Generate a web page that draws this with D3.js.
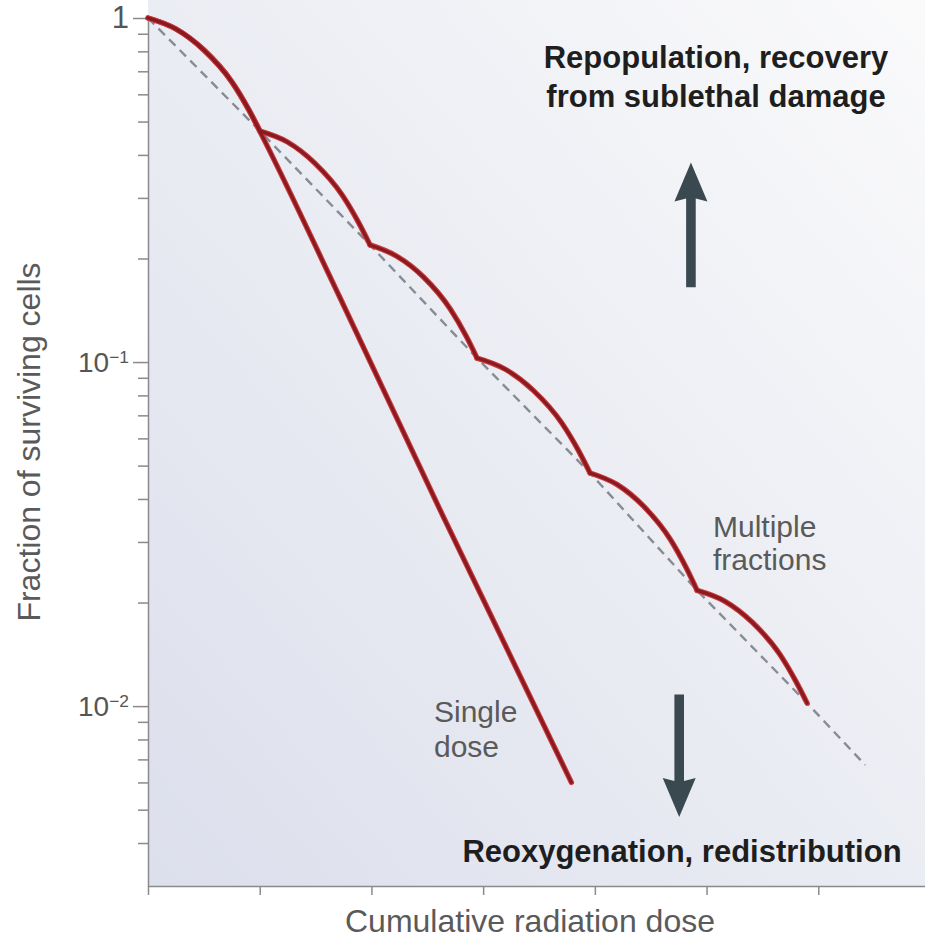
<!DOCTYPE html>
<html lang="en">
<head>
  <meta charset="UTF-8">
  <title>Cell survival: single dose vs multiple fractions</title>
  <script src="https://d3js.org/d3.v7.min.js"></script>
  <style>
    body { margin: 0; background: #fff; }
    svg { display: block; font-family: "Liberation Sans", Arial, Helvetica, sans-serif; }
    .axis path, .axis line { stroke: #8a8a8a; stroke-width: 1.5px; }
    .axis text { fill: #555; font-size: 28px; }
    .label { fill: #5a5a5a; font-size: 30px; }
    .title { fill: #5a5a5a; font-size: 32px; }
    .note { fill: #1e1e1e; font-size: 31px; font-weight: bold; }
    .curve-halo { fill: none; stroke: #c93a3d; stroke-width: 5.4px; stroke-linejoin: round; stroke-linecap: round; }
    .curve { fill: none; stroke: #8a1a1f; stroke-width: 3.2px; stroke-linejoin: round; stroke-linecap: round; }
    .envelope { fill: none; stroke: #878c94; stroke-width: 2.4px; stroke-dasharray: 9,6; }
    .arrow { fill: #3a4850; }
  </style>
</head>
<body>
  <script>
    const width = 925;
    const height = 940;

    // dose (tick units) and surviving fraction
    const singleDose = [
      [0, 1], [0.25, 0.929], [0.5, 0.807], [0.75, 0.652], [0.9, 0.542], [1.0, 0.469],
      [1.72, 0.1535], [2.64, 0.0357], [3.79, 0.0060]
    ];

    // each fraction is its own shoulder; kinks where the next fraction starts
    const fractions = [
      [[0, 1], [0.251, 0.929], [0.501, 0.807], [0.752, 0.652], [0.902, 0.542], [1.003, 0.469]],
      [[1.003, 0.469], [1.249, 0.436], [1.495, 0.378], [1.741, 0.305], [1.889, 0.253], [1.987, 0.219]],
      [[1.987, 0.219], [2.227, 0.203], [2.466, 0.1767], [2.706, 0.1426], [2.850, 0.1186], [2.945, 0.1027]],
      [[2.945, 0.1027], [3.198, 0.0953], [3.451, 0.0826], [3.704, 0.0665], [3.856, 0.0551], [3.957, 0.0476]],
      [[3.957, 0.0476], [4.197, 0.0441], [4.436, 0.0381], [4.676, 0.0305], [4.819, 0.0252], [4.915, 0.0217]],
      [[4.915, 0.0217], [5.161, 0.0202], [5.407, 0.01755], [5.654, 0.01417], [5.801, 0.01178], [5.900, 0.0102]]
    ];

    // dashed envelope through the kinks
    const envelope = [
      [0, 1], [1.003, 0.469], [1.987, 0.219], [2.945, 0.1027], [3.957, 0.0476],
      [4.915, 0.0217], [5.900, 0.0102], [6.42, 0.00674]
    ];

    const xTicks = [0, 1, 2, 3, 4, 5, 6];
    const yMajor = [1, 0.1, 0.01];
    const yMinor = [0.9, 0.8, 0.7, 0.6, 0.5, 0.4, 0.3, 0.2,
                    0.09, 0.08, 0.07, 0.06, 0.05, 0.04, 0.03, 0.02,
                    0.009, 0.008, 0.007, 0.006, 0.005, 0.004];

    // up: repopulation / recovery, down: reoxygenation / redistribution
    const arrows = [
      { dose: 4.86, from: 0.165, to: 0.38 },
      { dose: 4.755, from: 0.0108, to: 0.00476 }
    ];

    const svg = d3.select("body").append("svg")
      .attr("width", width)
      .attr("height", height);

    const x = d3.scaleLinear().domain([0, 7]).range([148, 930]);
    const y = d3.scaleLog().domain([0.003, 1]).range([886, 18]);

    // shaded plot area
    const defs = svg.append("defs");
    const grad = defs.append("linearGradient")
      .attr("id", "bg")
      .attr("x1", 0).attr("y1", 1).attr("x2", 1).attr("y2", 0);
    grad.append("stop").attr("offset", 0).attr("stop-color", "#dcdfec");
    grad.append("stop").attr("offset", 0.55).attr("stop-color", "#eceef4");
    grad.append("stop").attr("offset", 1).attr("stop-color", "#fafafb");

    svg.append("rect")
      .attr("x", x(0)).attr("y", 0)
      .attr("width", width - x(0)).attr("height", y(0.003))
      .attr("fill", "url(#bg)");

    // axes
    svg.append("g")
      .attr("class", "axis")
      .attr("transform", `translate(0,${y(0.003)})`)
      .call(d3.axisBottom(x).tickValues(xTicks).tickSize(9).tickSizeOuter(0).tickFormat(""));

    const yAxis = svg.append("g")
      .attr("class", "axis")
      .attr("transform", `translate(${x(0)},0)`)
      .call(d3.axisLeft(y).tickValues(yMajor).tickSize(15).tickSizeOuter(0).tickPadding(4));

    yAxis.selectAll(".tick text").each(function (d) {
      const t = d3.select(this).text(null);
      if (d === 1) {
        t.style("font-size", "31px").text("1");
      } else {
        t.append("tspan").text("10");
        t.append("tspan").attr("dy", "-0.5em").attr("font-size", "0.62em")
          .text("\u2212" + Math.round(-Math.log10(d)));
      }
    });

    svg.append("g")
      .attr("class", "axis")
      .attr("transform", `translate(${x(0)},0)`)
      .call(d3.axisLeft(y).tickValues(yMinor).tickSize(10).tickSizeOuter(0).tickFormat(""))
      .select(".domain").remove();

    const line = d3.line()
      .x(d => x(d[0]))
      .y(d => y(d[1]));

    // dashed envelope
    svg.append("path")
      .datum(envelope)
      .attr("class", "envelope")
      .attr("d", line.curve(d3.curveLinear));

    // red curves: halo then core
    const smooth = d3.line().x(d => x(d[0])).y(d => y(d[1])).curve(d3.curveMonotoneX);
    const curves = [singleDose, ...fractions];
    ["curve-halo", "curve"].forEach(cls => {
      svg.selectAll("path." + cls)
        .data(curves)
        .join("path")
        .attr("class", cls)
        .attr("d", smooth);
    });

    // arrows
    svg.selectAll(".arrow")
      .data(arrows)
      .join("path")
      .attr("class", "arrow")
      .attr("d", a => {
        const cx = x(a.dose), y0 = y(a.from), y1 = y(a.to);
        const dir = y1 < y0 ? -1 : 1;
        const head = 38, hw = 16.5, sw = 4.8;
        const yb = y1 - dir * head;
        return `M${cx - sw},${y0} L${cx - sw},${yb + dir * 2} L${cx - hw},${yb - dir * 1}` +
          ` L${cx},${y1} L${cx + hw},${yb - dir * 1} L${cx + sw},${yb + dir * 2} L${cx + sw},${y0} Z`;
      });

    // annotations
    const topNote = svg.append("text").attr("class", "note").attr("text-anchor", "middle");
    topNote.append("tspan").attr("x", 716).attr("y", 68).text("Repopulation, recovery");
    topNote.append("tspan").attr("x", 716).attr("y", 107).text("from sublethal damage");

    svg.append("text").attr("class", "note")
      .attr("x", 682).attr("y", 862).attr("text-anchor", "middle")
      .text("Reoxygenation, redistribution");

    const mf = svg.append("text").attr("class", "label");
    mf.append("tspan").attr("x", 713).attr("y", 537).text("Multiple");
    mf.append("tspan").attr("x", 713).attr("y", 570).text("fractions");

    const sd = svg.append("text").attr("class", "label");
    sd.append("tspan").attr("x", 434).attr("y", 722).text("Single");
    sd.append("tspan").attr("x", 434).attr("y", 757).text("dose");

    // axis titles
    svg.append("text").attr("class", "title")
      .attr("x", 530).attr("y", 932).attr("text-anchor", "middle")
      .text("Cumulative radiation dose");

    svg.append("text").attr("class", "title")
      .attr("transform", "translate(40,442) rotate(-90)")
      .attr("text-anchor", "middle")
      .text("Fraction of surviving cells");
  </script>
</body>
</html>
